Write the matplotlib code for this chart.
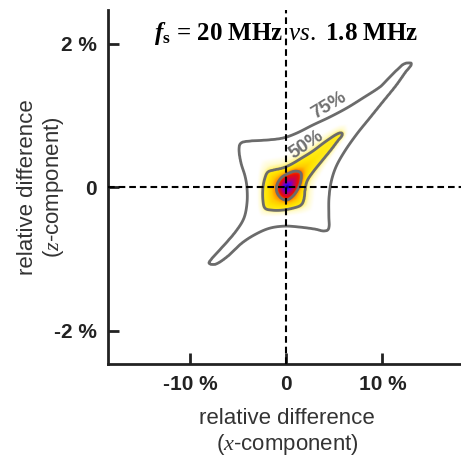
import numpy as np
import matplotlib
matplotlib.use("Agg")
import matplotlib.pyplot as plt
from matplotlib.path import Path
from matplotlib.colors import LinearSegmentedColormap

plt.rcParams['font.family'] = ['Liberation Sans', 'DejaVu Sans']
plt.rcParams['mathtext.fontset'] = 'custom'
plt.rcParams['mathtext.rm'] = 'Liberation Serif'
plt.rcParams['mathtext.it'] = 'Liberation Serif:italic'
plt.rcParams['mathtext.bf'] = 'Liberation Serif:bold'
plt.rcParams['mathtext.bfit'] = 'Liberation Serif:italic:bold'

# ---------------- data (x-component %, z-component %) ----------------
# 75 % highest-density contour
c75_x = [12.97, 12.24, 11.41, 10.57, 9.74, 7.97, 6.30, 4.53, 2.76, 1.09, -0.36, -2.03, -3.80, -4.74,
         -4.95, -4.74, -4.32, -4.11, -4.11, -4.43, -5.26, -6.51, -7.66, -8.07, -7.34,
         -6.09, -4.64, -3.18, -1.72, -0.16, 1.41, 2.97, 3.91, 4.43, 4.43, 4.43, 4.64,
         5.16, 6.09, 7.34, 8.70, 10.05, 11.41, 12.45, 12.97]
c75_y = [1.734, 1.720, 1.622, 1.510, 1.399, 1.245, 1.106, 0.980, 0.869, 0.757, 0.688, 0.660, 0.646, 0.618,
         0.520, 0.339, 0.158, -0.010, -0.219, -0.428, -0.609, -0.805, -0.972, -1.056, -1.070,
         -0.958, -0.777, -0.651, -0.568, -0.540, -0.554, -0.582, -0.609, -0.568, -0.386, -0.177, 0.060,
         0.283, 0.506, 0.743, 0.967, 1.190, 1.413, 1.608, 1.692]
# 50 % contour
c50_x = [5.78, 5.26, 4.01, 2.76, 1.61, 0.57, -0.36, -1.30, -1.93, -2.24, -2.45, -2.45, -2.24,
         -1.51, -0.47, 0.68, 1.51, 1.82, 1.93, 2.14, 2.76, 3.70, 4.64, 5.36, 5.78]
c50_y = [0.757, 0.743, 0.632, 0.506, 0.409, 0.325, 0.269, 0.241, 0.213, 0.130, -0.010, -0.177, -0.289,
         -0.317, -0.317, -0.289, -0.247, -0.163, -0.038, 0.088, 0.213, 0.367, 0.520, 0.646, 0.715]
# innermost contour
cin_x = [1.51, 0.89, 0.05, -0.57, -0.99, -0.99, -0.57, 0.05, 0.68, 1.20, 1.51]
cin_y = [0.199, 0.227, 0.185, 0.130, 0.032, -0.066, -0.149, -0.177, -0.121, -0.024, 0.088]
peak_x, peak_y = 0.0, 0.0

contour_levels = [1, 2, 3]
contour_texts = ['75%', '50%']
contour_text_x = [4.48, 2.14]
contour_text_y = [1.14, 0.59]
contour_text_rot = [31, 34]

xticks = [-10, 0, 10]
xticklabels = ['-10 %', '0', '10 %']
yticks = [-2, 0, 2]
yticklabels = ['-2 %', '0', '2 %']

# ---------------- density-like field built from the contours ----------------
SX, SY = 9.6, 71.7   # isotropic metric (display px per %)


def catmull(xs, ys, n=6):
    P = np.column_stack([np.asarray(xs) * SX, np.asarray(ys) * SY])
    m = len(P)
    t = np.linspace(0, 1, n, endpoint=False)[:, None]
    out = []
    for i in range(m):
        p0, p1, p2, p3 = P[i - 1], P[i], P[(i + 1) % m], P[(i + 2) % m]
        seg = 0.5 * (2 * p1 + (-p0 + p2) * t + (2 * p0 - 5 * p1 + 4 * p2 - p3) * t ** 2
                     + (-p0 + 3 * p1 - 3 * p2 + p3) * t ** 3)
        out.append(seg)
    return np.vstack(out)


def signed_dist(poly, pts):
    d = np.full(len(pts), np.inf)
    b = np.roll(poly, -1, axis=0)
    for (ax_, ay_), (bx_, by_) in zip(poly, b):
        dx, dy = bx_ - ax_, by_ - ay_
        L2 = dx * dx + dy * dy + 1e-12
        t = np.clip(((pts[:, 0] - ax_) * dx + (pts[:, 1] - ay_) * dy) / L2, 0, 1)
        ex = pts[:, 0] - ax_ - t * dx
        ey = pts[:, 1] - ay_ - t * dy
        d = np.minimum(d, ex * ex + ey * ey)
    d = np.sqrt(d)
    inside = Path(poly).contains_points(pts)
    return np.where(inside, d, -d)


gx = np.linspace(-10.5, 15.0, 420)
gy = np.linspace(-1.5, 2.1, 430)
GX, GY = np.meshgrid(gx, gy)
pts = np.column_stack([GX.ravel() * SX, GY.ravel() * SY])

d1 = signed_dist(catmull(c75_x, c75_y), pts)
d2 = signed_dist(catmull(c50_x, c50_y), pts)
d3 = signed_dist(catmull(cin_x, cin_y), pts)
r = np.hypot(pts[:, 0] - peak_x * SX, pts[:, 1] - peak_y * SY)

with np.errstate(divide='ignore', invalid='ignore'):
    F = np.where(d1 < 0, 1 - (-d1) / (-d1 + 15.0),
        np.where(d2 < 0, 1 + d1 / (d1 - d2),
        np.where(d3 < 0, 2 + d2 / (d2 - d3),
                 3 + d3 / (d3 + r + 1e-9))))
F = F.reshape(GX.shape)

cnodes = [(0.0, '#ffffff'), (1.0, '#ffffff'), (1.6, '#ffffff'), (1.82, '#fffbd0'),
          (1.95, '#fff27a'), (2.0, '#ffec20'), (2.3, '#ffe400'), (2.6, '#ffc800'),
          (2.85, '#ff9000'), (3.0, '#ff5000'), (3.2, '#e81000'), (3.45, '#c00060'),
          (3.65, '#7000d0'), (3.82, '#3000f8'), (3.93, '#10008a'), (4.0, '#000020')]
cmap = LinearSegmentedColormap.from_list('dens', [(v / 4.0, c) for v, c in cnodes])

# ---------------- figure ----------------
fig = plt.figure(figsize=(4.61, 4.57), dpi=100)
ax = fig.add_axes([108 / 461, 1 - 364 / 457, 1 - 108 / 461, (364 - 10) / 457])

ax.imshow(F, extent=[gx[0], gx[-1], gy[0], gy[-1]], origin='lower', cmap=cmap,
          vmin=0, vmax=4, interpolation='bilinear', aspect='auto', zorder=1)
ax.contour(GX, GY, F, levels=contour_levels, colors='#6b6b6b', linewidths=2.0, zorder=2)

for txt, tx, ty, rot in zip(contour_texts, contour_text_x, contour_text_y, contour_text_rot):
    ax.text(tx, ty, txt, rotation=rot, color='#707070', fontsize=13.5, fontweight='bold',
            ha='center', va='center', rotation_mode='anchor', zorder=3)

ax.axhline(0, color='black', lw=1.5, ls=(0, (3.2, 1.9)), zorder=4)
ax.axvline(0, color='black', lw=1.5, ls=(0, (3.2, 1.9)), zorder=4)

ax.set_xlim(-18.6, 18.2)
ax.set_ylim(-2.46, 2.47)

for s in ['top', 'right']:
    ax.spines[s].set_visible(False)
for s in ['left', 'bottom']:
    ax.spines[s].set_linewidth(2.0)
    ax.spines[s].set_color('#222222')

ax.set_xticks(xticks)
ax.set_xticklabels(xticklabels)
ax.set_yticks(yticks)
ax.set_yticklabels(yticklabels)
ax.tick_params(direction='in', length=8, width=2, color='#222222', labelsize=15,
               labelcolor='#222222', pad=8)
for lab in ax.get_xticklabels() + ax.get_yticklabels():
    lab.set_fontweight('bold')

ax.set_xlabel('relative difference\n($\\mathit{x}$-component)', fontsize=16, color='#333333',
              linespacing=1.15)
ax.set_ylabel('relative difference\n($\\mathit{z}$-component)', fontsize=16, color='#333333',
              linespacing=1.15)
ax.xaxis.set_label_coords(0.508, -0.125)
ax.yaxis.set_label_coords(-0.12, 0.5)

ax.text(0.505, 0.915, '$\\mathbfit{f}_{\\mathbf{s}}$ = 20 MHz $\\mathit{vs.}$ 1.8 MHz',
        transform=ax.transAxes, ha='center', va='baseline', fontsize=18,
        fontfamily='Liberation Serif', fontweight='bold', color='black', zorder=5)

fig.savefig('out.png', dpi=100)
